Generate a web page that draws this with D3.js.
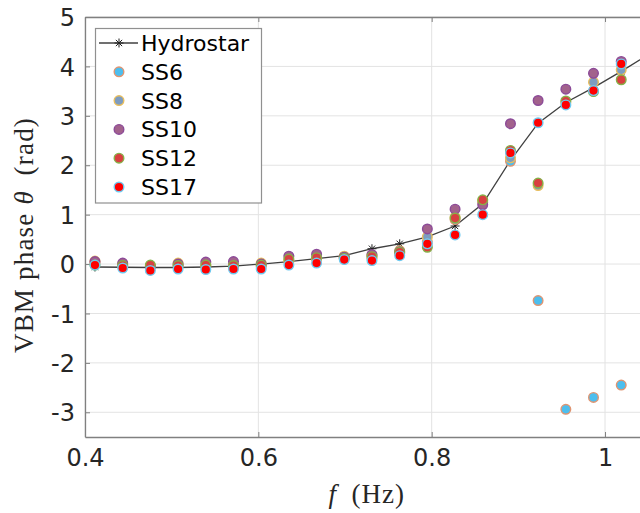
<!DOCTYPE html>
<html><head><meta charset="utf-8">
<script src="https://cdn.jsdelivr.net/npm/d3@7"></script>
<style>body{margin:0;background:#fff}svg{display:block}</style>
</head><body><svg id="c" width="640" height="513"></svg>
<script>
const freqs = [0.4115,0.4435,0.4754,0.5074,0.5394,0.5713,0.6033,0.6352,0.6672,0.6991,0.7311,0.7631,0.7950,0.8270,0.8589,0.8909,0.9228,0.9548,0.9867,1.0187];
const hydroFreqs = [0.4115,0.4435,0.4754,0.5074,0.5394,0.5713,0.6033,0.6352,0.6672,0.6991,0.7311,0.7631,0.7950,0.8270,0.8589,0.8909,0.9228,0.9548,0.9867,1.0187,1.0507];
const hydrostar = [-0.06,-0.065,-0.07,-0.07,-0.06,-0.04,0.0,0.05,0.11,0.17,0.31,0.41,0.55,0.77,1.22,2.1,2.85,3.27,3.57,3.9,4.25];
const ss6  = [0.03,-0.02,-0.06,-0.04,-0.05,-0.06,-0.05,0.05,0.10,0.12,0.12,0.22,0.45,0.90,1.25,2.08,-0.74,-2.94,-2.70,-2.45];
const ss8  = [0.06,0.00,-0.03,0.02,-0.02,-0.02,0.02,0.08,0.12,0.16,0.18,0.27,0.55,0.95,1.28,2.15,1.59,3.27,3.68,3.93];
const ss10 = [0.05,0.02,-0.05,0.00,0.04,0.05,0.00,0.16,0.20,0.14,0.19,0.25,0.71,1.11,1.20,2.84,3.31,3.54,3.86,4.10];
const ss12 = [-0.02,-0.03,-0.02,-0.03,-0.02,-0.03,-0.02,0.10,0.13,0.12,0.15,0.24,0.34,0.93,1.30,2.30,1.64,3.30,3.49,3.73];
const ss17 = [-0.02,-0.08,-0.13,-0.10,-0.11,-0.10,-0.10,-0.02,0.02,0.09,0.07,0.17,0.41,0.59,1.00,2.25,2.86,3.22,3.51,4.05];
const xTicks = [0.4,0.6,0.8,1.0];
const yTicks = [-3,-2,-1,0,1,2,3,4,5];
const seriesNames = ["SS6","SS8","SS10","SS12","SS17"];

const series = [
  {name:"SS6", v:ss6, fill:"#4dbeee", stroke:"#e09470"},
  {name:"SS8", v:ss8, fill:"#7d9cc0", stroke:"#e8bd5c"},
  {name:"SS10", v:ss10, fill:"#a2628c", stroke:"#8c4a98"},
  {name:"SS12", v:ss12, fill:"#d84040", stroke:"#86b048"},
  {name:"SS17", v:ss17, fill:"#ff0000", stroke:"#6fcaf0"}
];

const svg = d3.select("#c");
const L=85, T=17, B=437;
const x = d3.scaleLinear().domain([0.4,1.05]).range([L, L+0.65*866.7]);
const y = d3.scaleLinear().domain([-3.5,5]).range([B,T]);
const R = x(1.05);

// grid
const g = svg.append("g");
g.selectAll(".gx").data(xTicks).join("line")
  .attr("x1",d=>x(d)).attr("x2",d=>x(d)).attr("y1",T).attr("y2",B)
  .attr("stroke","#e3e3e3").attr("stroke-width",1);
g.selectAll(".gy").data(yTicks).join("line")
  .attr("x1",L).attr("x2",R).attr("y1",d=>y(d)).attr("y2",d=>y(d))
  .attr("stroke","#e3e3e3").attr("stroke-width",1);

// axes
const fmt = d => d===1?"1":String(d);
const axB = svg.append("g").attr("transform",`translate(0,${B})`)
  .call(d3.axisBottom(x).tickValues(xTicks).tickSizeInner(-5).tickSizeOuter(0).tickPadding(12).tickFormat(fmt));
const axT = svg.append("g").attr("transform",`translate(0,${T})`)
  .call(d3.axisTop(x).tickValues(xTicks).tickSizeInner(-5).tickSizeOuter(0).tickFormat(""));
const axL = svg.append("g").attr("transform",`translate(${L},0)`)
  .call(d3.axisLeft(y).tickValues(yTicks).tickSizeInner(-5).tickSizeOuter(0).tickPadding(10).tickFormat(d=>String(d)));
[axB,axT,axL].forEach(a=>{
  a.select(".domain").attr("stroke","#808080").attr("stroke-width",1.3);
  a.selectAll(".tick line").attr("stroke","#808080");
  a.selectAll("text").attr("font-family","DejaVu Sans").attr("font-size",24).attr("fill","#262626");
});
axL.selectAll("text").attr("dy","0.36em");

// hydrostar line
const line = d3.line().x((d,i)=>x(hydroFreqs[i])).y(d=>y(d));
svg.append("path").datum(hydrostar).attr("d",line).attr("fill","none").attr("stroke","#404040").attr("stroke-width",1.3);
const starPath = s => `M${-s},0H${s}M0,${-s}V${s}M${-s*0.7},${-s*0.7}L${s*0.7},${s*0.7}M${-s*0.7},${s*0.7}L${s*0.7},${-s*0.7}`;
svg.append("g").selectAll("path").data(hydrostar).join("path")
  .attr("transform",(d,i)=>`translate(${x(hydroFreqs[i])},${y(d)})`)
  .attr("d",starPath(4.5)).attr("stroke","#202020").attr("stroke-width",1).attr("fill","none");

// series
series.forEach(s=>{
  svg.append("g").selectAll("circle").data(s.v).join("circle")
    .attr("cx",(d,i)=>x(freqs[i])).attr("cy",d=>y(d)).attr("r",4.8)
    .attr("fill",s.fill).attr("stroke",s.stroke).attr("stroke-width",1.4);
});

// legend
const lg = svg.append("g");
lg.append("rect").attr("x",95.5).attr("y",28.5).attr("width",166).attr("height",174.5)
  .attr("fill","#fff").attr("stroke","#909090").attr("stroke-width",1.2);
const ly = i => 43 + i*28.8;
lg.append("line").attr("x1",99).attr("x2",138).attr("y1",ly(0)).attr("y2",ly(0)).attr("stroke","#404040").attr("stroke-width",1.3);
lg.append("path").attr("transform",`translate(119,${ly(0)})`).attr("d",starPath(4.5)).attr("stroke","#202020").attr("fill","none");
lg.append("text").attr("x",141).attr("y",ly(0)).attr("dy","0.36em").text("Hydrostar")
  .attr("font-family","DejaVu Sans").attr("font-size",22).attr("fill","#000");
series.forEach((s,i)=>{
  lg.append("circle").attr("cx",119).attr("cy",ly(i+1)).attr("r",4.8).attr("fill",s.fill).attr("stroke",s.stroke).attr("stroke-width",1.4);
  lg.append("text").attr("x",141).attr("y",ly(i+1)).attr("dy","0.36em").text(seriesNames[i])
    .attr("font-family","DejaVu Sans").attr("font-size",22).attr("fill","#000");
});

// axis labels
const xl = svg.append("text").attr("x",(L+R)/2).attr("y",503).attr("text-anchor","middle")
  .attr("font-family","Liberation Serif, serif").attr("font-size",27).attr("letter-spacing",1).attr("fill","#262626");
xl.append("tspan").attr("font-style","italic").text("f");
xl.append("tspan").text("\u2002(Hz)");
const yl = svg.append("text").attr("transform",`translate(33,235) rotate(-90)`).attr("text-anchor","middle")
  .attr("font-family","Liberation Serif, serif").attr("font-size",27).attr("letter-spacing",1.2).attr("fill","#262626");
yl.append("tspan").text("VBM phase ");
yl.append("tspan").attr("font-style","italic").text("\u03b8");
yl.append("tspan").text("\u2002(rad)");
</script></body></html>
